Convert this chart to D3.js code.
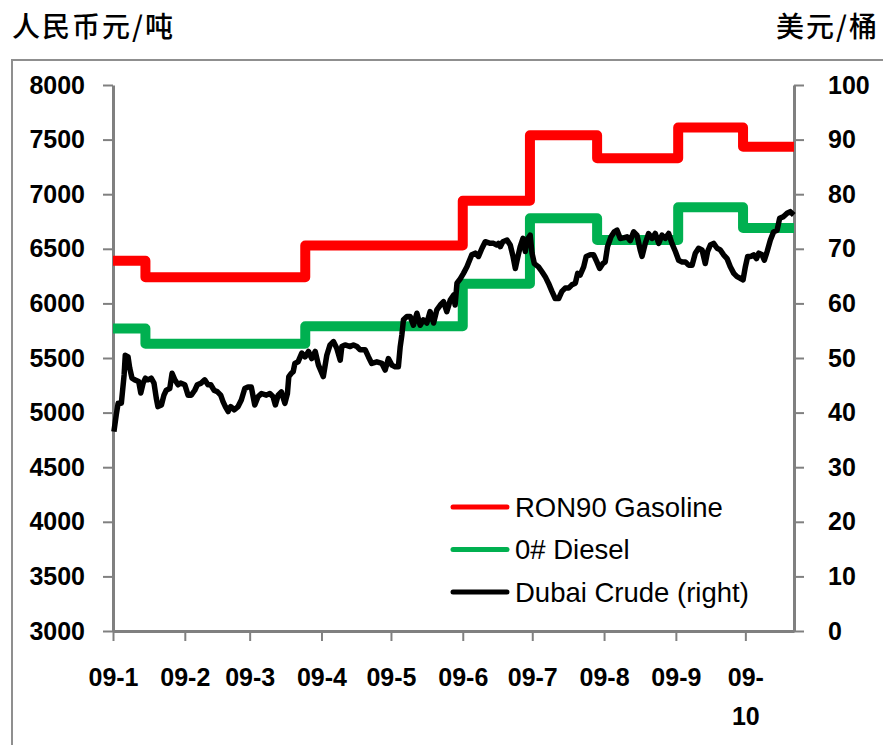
<!DOCTYPE html>
<html>
<head>
<meta charset="utf-8">
<script src="https://cdn.jsdelivr.net/npm/d3@7"></script>
<style>
  body { margin: 0; background: #fff; }
  .tick text { font-family: "Liberation Sans", Arial, sans-serif; font-weight: bold; font-size: 25px; fill: #000; }
</style>
</head>
<body>
<div id="chart"></div>
<script>
// month ticks and their labels
var monthStarts = ["2009-01-01", "2009-02-01", "2009-03-01", "2009-04-01", "2009-05-01",
  "2009-06-01", "2009-07-01", "2009-08-01", "2009-09-01", "2009-10-01"];
var monthLabels = ["09-1", "09-2", "09-3", "09-4", "09-5", "09-6", "09-7", "09-8", "09-9", "09-10"];
var endDate = "2009-10-22";

// retail price adjustments (yuan/ton)
var adjustDates = ["2009-01-01", "2009-01-15", "2009-03-25", "2009-06-01", "2009-06-30",
  "2009-07-29", "2009-09-02", "2009-09-30"];
var gasoline = [6390, 6240, 6530, 6940, 7540, 7330, 7610, 7435];
var diesel = [5770, 5630, 5790, 6180, 6780, 6580, 6880, 6690];

// Dubai crude (USD/bbl), days since 2009-01-01
var crudeDay = [0.4, 1.4, 2.2, 3.6, 4.8, 5.3, 6.5, 7.2, 8.2, 9.4, 11.1, 12.0, 13.0, 14.0, 15.1, 16.5,
  17.7, 18.7, 19.4, 20.9, 22.0, 23.0, 24.5, 25.5, 26.7, 28.1, 29.2, 31.0, 32.4, 33.8, 35.3, 36.4,
  38.1, 39.6, 41.0, 42.2, 43.6, 45.1, 46.5, 47.5, 48.5, 49.7, 50.8, 52.3, 54.0, 55.4, 56.9, 58.3,
  59.7, 61.2, 62.6, 64.1, 66.2, 67.7, 69.1, 70.1, 71.3, 72.7, 74.2, 75.3, 75.9, 77.0, 77.8, 78.5,
  79.9, 81.5, 82.9, 84.4, 85.8, 87.3, 88.7, 90.8, 92.3, 93.7, 95.2, 96.6, 98.1, 98.8, 100.2, 102.4,
  103.8, 105.3, 106.7, 108.9, 110.3, 111.7, 113.9, 116.1, 117.5, 118.9, 120.4, 121.8, 123.2, 124.0,
  124.7, 125.4, 126.9, 128.3, 129.7, 131.2, 132.6, 134.0, 135.5, 136.9, 138.4, 139.8, 141.3, 142.7,
  144.1, 145.6, 147.0, 147.7, 148.5, 149.9, 151.3, 152.8, 154.9, 156.4, 157.8, 159.3, 160.7, 162.9,
  164.3, 165.7, 166.4, 167.2, 168.3, 170.1, 171.5, 172.7, 173.7, 174.6, 175.8, 177.0, 178.0, 178.7,
  180.1, 180.9, 181.9, 183.7, 185.2, 186.6, 188.0, 189.5, 190.9, 192.4, 193.8, 195.2, 196.7, 198.1,
  199.6, 200.6, 201.7, 203.2, 204.3, 206.0, 207.5, 208.9, 210.1, 211.5, 212.5, 213.5, 215.0, 216.4,
  217.6, 219.0, 220.4, 221.9, 223.3, 224.8, 226.2, 227.6, 228.4, 229.8, 231.2, 232.7, 234.1, 235.6,
  237.0, 238.4, 239.9, 241.3, 242.8, 244.2, 245.7, 247.1, 248.5, 250.0, 251.4, 252.8, 254.3, 255.7,
  256.7, 257.9, 259.3, 260.8, 262.2, 263.6, 265.1, 266.5, 268.0, 269.4, 270.8, 272.0, 273.0, 274.0,
  275.4, 276.6, 277.8, 278.8, 280.2, 281.2, 282.4, 283.8, 285.2, 286.7, 287.8, 289.5, 291.0, 292.4, 293.9];
var crudeUSD = [36.5, 39.6, 41.7, 41.7, 46.9, 50.5, 50.2, 48.2, 46.3, 46.0, 45.7, 43.6, 45.4, 46.3, 46.0, 46.3,
  45.4, 42.6, 41.1, 41.4, 43.2, 44.1, 44.4, 47.2, 46.0, 45.1, 45.4, 45.1, 43.2, 43.2, 44.1, 45.1,
  45.4, 46.0, 45.1, 45.1, 44.1, 43.8, 43.2, 42.0, 41.1, 40.2, 41.1, 40.5, 41.1, 42.3, 44.4, 44.7,
  44.7, 41.4, 42.9, 43.5, 43.2, 43.5, 42.9, 41.4, 43.2, 43.8, 41.7, 43.5, 46.6, 47.2, 47.5, 49.0,
  49.3, 50.9, 50.2, 51.2, 49.9, 51.2, 48.7, 46.6, 50.5, 52.4, 53.0, 51.8, 49.6, 52.1, 52.4, 52.1,
  52.4, 52.1, 51.5, 51.5, 50.2, 49.0, 49.3, 49.0, 47.8, 49.9, 48.7, 48.4, 48.4, 52.1,
  54.2, 57.0, 57.6, 57.6, 56.0, 58.2, 56.0, 57.0, 56.4, 58.5, 56.4, 58.8, 59.7, 60.3,
  58.5, 60.6, 61.5, 59.7, 63.7, 64.5, 65.5, 66.7, 68.9, 69.2, 68.6, 70.1, 71.3, 71.0,
  71.0, 70.7, 71.0, 70.4, 71.3, 71.6, 70.7, 68.6, 66.4, 68.2, 70.4, 71.9, 69.5, 71.6,
  72.5, 69.2, 67.3, 66.7, 65.8, 64.9, 63.7, 62.2, 60.9, 60.9, 62.2, 62.8, 62.8, 63.4,
  63.7, 65.5, 65.2, 66.7, 68.6, 68.9, 68.9, 67.6, 66.4, 67.3, 67.6, 70.4, 72.2, 73.1,
  73.4, 71.9, 72.0, 72.2, 71.5, 73.1, 72.5, 69.8, 68.6, 71.0, 72.8, 71.9, 72.8, 71.0,
  72.5, 71.9, 72.8, 71.0, 69.5, 67.9, 67.6, 67.6, 67.0, 67.0, 69.2, 70.1, 69.8, 67.3,
  69.5, 70.7, 71.0, 70.1, 69.8, 68.9, 68.2, 66.7, 65.5, 64.9, 64.6, 64.3, 66.7, 68.6,
  68.6, 68.9, 68.2, 69.2, 68.9, 67.9, 69.5, 71.6, 73.1, 73.4, 75.6, 75.9, 76.5, 76.8, 76.2];

var leftTicks = [3000, 3500, 4000, 4500, 5000, 5500, 6000, 6500, 7000, 7500, 8000];
var rightTicks = [0, 10, 20, 30, 40, 50, 60, 70, 80, 90, 100];

var svgWidth = 883;
var svgHeight = 745;
var margin = { top: 85, right: 89, bottom: 114, left: 113 };
var width = svgWidth - margin.left - margin.right;
var height = svgHeight - margin.top - margin.bottom;

var parseDate = d3.timeParse("%Y-%m-%d");
var start = parseDate("2009-01-01");

var svg = d3.select("#chart")
  .append("svg")
  .attr("width", svgWidth)
  .attr("height", svgHeight)
  .style("display", "block");

// outer frame
svg.append("rect")
  .attr("x", 12).attr("y", 60)
  .attr("width", 900).attr("height", 720)
  .attr("fill", "none")
  .attr("stroke", "#8f8f8f")
  .attr("stroke-width", 2);

// unit titles
svg.append("text")
  .attr("x", 12).attr("y", 25)
  .attr("dominant-baseline", "central")
  .style("font-family", "'Noto Sans CJK SC', sans-serif")
  .style("font-size", "28px")
  .style("font-weight", "500")
  .style("letter-spacing", "2px")
  .text("人民币元/吨");

svg.append("text")
  .attr("x", 879).attr("y", 25)
  .attr("text-anchor", "end")
  .attr("dominant-baseline", "central")
  .style("font-family", "'Noto Sans CJK SC', sans-serif")
  .style("font-size", "28px")
  .style("font-weight", "500")
  .style("letter-spacing", "2px")
  .text("美元/桶");

var chartGroup = svg.append("g")
  .attr("transform", `translate(${margin.left}, ${margin.top})`);

var xScale = d3.scaleTime()
  .domain([start, parseDate(endDate)])
  .range([0, width]);

var yLeft = d3.scaleLinear().domain([3000, 8000]).range([height, 0]);
var yRight = d3.scaleLinear().domain([0, 100]).range([height, 0]);

// axes
var bottomAxis = d3.axisBottom(xScale)
  .tickValues(monthStarts.map(parseDate))
  .tickFormat((d, i) => monthLabels[i])
  .tickSize(10).tickSizeOuter(0).tickPadding(27);
var leftAxis = d3.axisLeft(yLeft).tickValues(leftTicks).tickFormat(d3.format("d"))
  .tickSize(10).tickSizeOuter(0).tickPadding(18);
var rightAxis = d3.axisRight(yRight).tickValues(rightTicks).tickFormat(d3.format("d"))
  .tickSize(10).tickSizeOuter(0).tickPadding(24);

var gx = chartGroup.append("g")
  .attr("transform", `translate(0, ${height})`)
  .call(bottomAxis);
var gl = chartGroup.append("g").call(leftAxis);
var gr = chartGroup.append("g")
  .attr("transform", `translate(${width}, 0)`)
  .call(rightAxis);

[gx, gl, gr].forEach(function(g) {
  g.select(".domain").attr("stroke", "#808080").attr("stroke-width", 3);
  g.selectAll(".tick line").attr("stroke", "#808080").attr("stroke-width", 2);
});

// split the "09-10" label on two lines
gx.selectAll(".tick text").each(function(d, i) {
  if (monthLabels[i] === "09-10") {
    var t = d3.select(this).text(null);
    t.append("tspan").attr("x", 0).text("09-");
    t.append("tspan").attr("x", 0).attr("dy", 39).text("10");
  }
});

// step series
function stepData(values) {
  var pts = adjustDates.map((d, i) => ({ date: parseDate(d), value: values[i] }));
  pts.push({ date: parseDate(endDate), value: values[values.length - 1] });
  return pts;
}

var stepLine = d3.line()
  .x(d => xScale(d.date))
  .y(d => yLeft(d.value))
  .curve(d3.curveStepAfter);

chartGroup.append("path")
  .datum(stepData(gasoline))
  .attr("d", stepLine)
  .attr("fill", "none")
  .attr("stroke", "#ff0000")
  .attr("stroke-width", 10)
  .attr("stroke-linejoin", "round");

chartGroup.append("path")
  .datum(stepData(diesel))
  .attr("d", stepLine)
  .attr("fill", "none")
  .attr("stroke", "#00b050")
  .attr("stroke-width", 10)
  .attr("stroke-linejoin", "round");

// crude
var crude = crudeDay.map((d, i) => ({ date: new Date(start.getTime() + d * 864e5), value: crudeUSD[i] }));

chartGroup.append("path")
  .datum(crude)
  .attr("d", d3.line().x(d => xScale(d.date)).y(d => yRight(d.value)))
  .attr("fill", "none")
  .attr("stroke", "#000")
  .attr("stroke-width", 5.5)
  .attr("stroke-linejoin", "round");

// legend
var legendItems = [
  { label: "RON90 Gasoline", color: "#ff0000" },
  { label: "0# Diesel", color: "#00b050" },
  { label: "Dubai Crude (right)", color: "#000" }
];

var legend = svg.append("g").attr("transform", "translate(453, 507)");
var rows = legend.selectAll("g")
  .data(legendItems)
  .enter()
  .append("g")
  .attr("transform", (d, i) => `translate(0, ${i * 42.5})`);

rows.append("line")
  .attr("x1", 0).attr("x2", 54)
  .attr("stroke", d => d.color)
  .attr("stroke-width", 5)
  .attr("stroke-linecap", "round");

rows.append("text")
  .attr("x", 62)
  .attr("dy", "0.35em")
  .style("font-family", "'Liberation Sans', Arial, sans-serif")
  .style("font-size", "27.5px")
  .text(d => d.label);
</script>
</body>
</html>
